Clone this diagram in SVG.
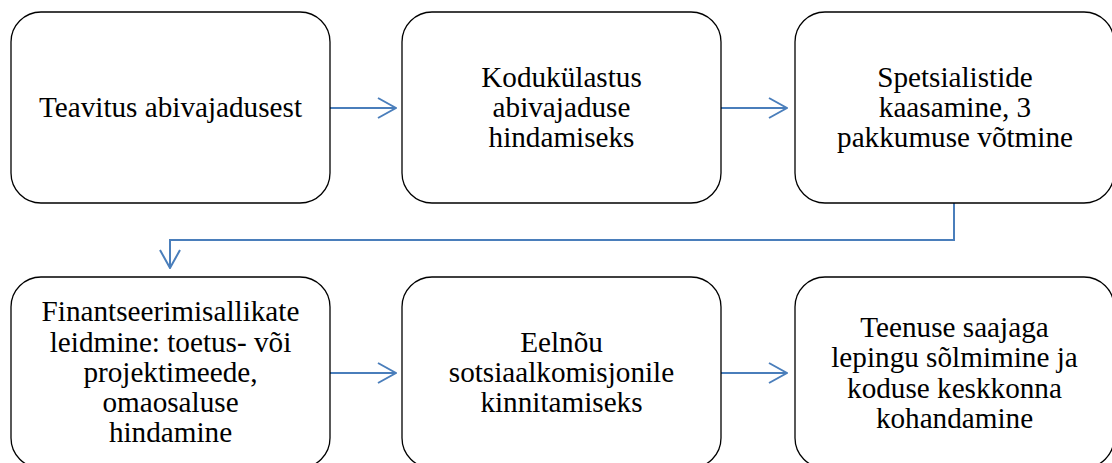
<svg xmlns="http://www.w3.org/2000/svg" width="1112" height="463" viewBox="0 0 1112 463">
<style>
.box{fill:#fff;stroke:#000;stroke-width:1.3}
.t{font-family:"Liberation Serif","Times New Roman",serif;font-size:29.2px;fill:#000;text-anchor:middle}
.c{fill:none;stroke:#4A7EBB;stroke-width:2}
</style>
<defs>
<marker id="ah" viewBox="0 0 20 22" refX="19" refY="11" markerWidth="20" markerHeight="22" markerUnits="userSpaceOnUse" orient="auto">
<path d="M1,1 L19,11 L1,21" fill="none" stroke="#4A7EBB" stroke-width="2"/>
</marker>
</defs>
<g id="connectors">
<path class="c" d="M330,108 H396" marker-end="url(#ah)"/>
<path class="c" d="M721,108 H787" marker-end="url(#ah)"/>
<path class="c" d="M954,203 V240 H170 V268" marker-end="url(#ah)"/>
<path class="c" d="M330,373 H396" marker-end="url(#ah)"/>
<path class="c" d="M721,373 H787" marker-end="url(#ah)"/>
</g>
<g id="n1"><rect class="box" x="11" y="12" width="319" height="191" rx="30"/>
<text class="t" x="170.5" y="117">Teavitus abivajadusest</text></g>
<g id="n2"><rect class="box" x="402" y="12" width="319" height="191" rx="30"/>
<text class="t" x="561.5" y="86.5">Kodukülastus</text>
<text class="t" x="561.5" y="116.5">abivajaduse</text>
<text class="t" x="561.5" y="146.5">hindamiseks</text></g>
<g id="n3"><rect class="box" x="795" y="12" width="319" height="191" rx="30"/>
<text class="t" x="955" y="86.5">Spetsialistide</text>
<text class="t" x="955" y="116.5">kaasamine, 3</text>
<text class="t" x="955" y="146.5">pakkumuse võtmine</text></g>
<g id="n4"><rect class="box" x="11" y="277" width="319" height="191" rx="30"/>
<text class="t" x="170.5" y="321">Finantseerimisallikate</text>
<text class="t" x="170.5" y="351.5">leidmine: toetus- või</text>
<text class="t" x="170.5" y="382">projektimeede,</text>
<text class="t" x="170.5" y="412">omaosaluse</text>
<text class="t" x="170.5" y="442">hindamine</text></g>
<g id="n5"><rect class="box" x="402" y="277" width="319" height="191" rx="30"/>
<text class="t" x="561.5" y="352">Eelnõu</text>
<text class="t" x="561.5" y="382">sotsiaalkomisjonile</text>
<text class="t" x="561.5" y="412">kinnitamiseks</text></g>
<g id="n6"><rect class="box" x="795" y="277" width="319" height="191" rx="30"/>
<text class="t" x="954.5" y="337">Teenuse saajaga</text>
<text class="t" x="954.5" y="367">lepingu sõlmimine ja</text>
<text class="t" x="954.5" y="397.5">koduse keskkonna</text>
<text class="t" x="954.5" y="427.5">kohandamine</text></g>
</svg>
